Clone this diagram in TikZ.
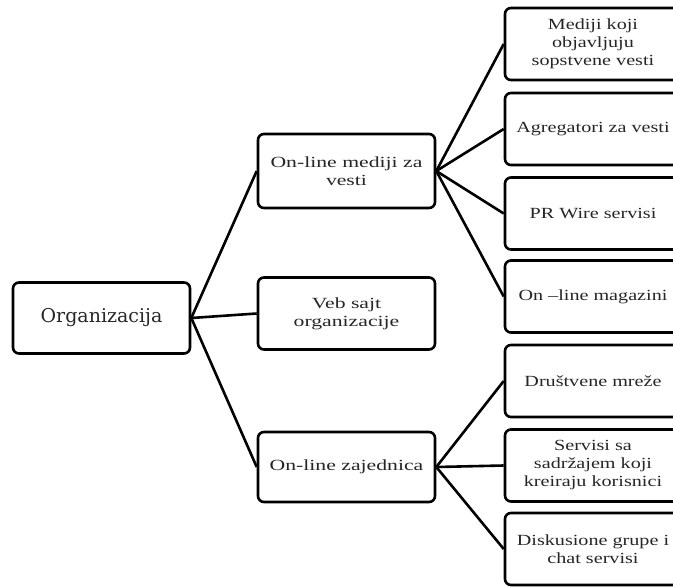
\documentclass[tikz,border=0pt]{standalone}
\usepackage{fontspec}
\setmainfont[FakeStretch=1.4]{Liberation Serif}
\newfontfamily\rightfont[FakeStretch=1.3]{Liberation Serif}
\newfontfamily\orgfont{DejaVu Serif}
\begin{document}
\begin{tikzpicture}[x=1pt,y=-1pt,
  box/.style={draw=black, line width=2.6pt, rounded corners=6pt, align=center,
    inner sep=2pt, font=\fontsize{15.5}{18}\selectfont, text=black!85, fill=white},
  midbox/.style={box, minimum width=177pt},
  rbox/.style={box, minimum width=176pt, minimum height=72pt,
    font=\rightfont\fontsize{15.5}{18}\selectfont},
  link/.style={line width=2.6pt, draw=black}]
\useasboundingbox (0,0) rectangle (673,587);
\node[box, minimum width=177pt, minimum height=71pt,
  font=\orgfont\fontsize{19}{22}\selectfont] (org) at (101.5,318) {Organizacija};
\node[midbox, minimum height=74pt] (med) at (346.5,171) {On-line mediji za\\vesti};
\node[midbox, minimum height=72pt] (veb) at (346.5,313.5) {Veb sajt\\organizacije};
\node[midbox, minimum height=70pt] (zaj) at (346.5,467) {On-line zajednica};
\node[rbox] (r1) at (593,44) {Mediji koji\\objavljuju\\sopstvene vesti};
\node[rbox] (r2) at (593,129) {Agregatori za vesti};
\node[rbox] (r3) at (593,213.5) {PR Wire servisi};
\node[rbox] (r4) at (593,296.5) {On –line magazini};
\node[rbox] (r5) at (593,381) {Društvene mreže};
\node[rbox] (r6) at (593,465.5) {Servisi sa\\sadržajem koji\\kreiraju korisnici};
\node[rbox] (r7) at (593,549) {Diskusione grupe i\\chat servisi};
\draw[link] (org.east) -- (med.west);
\draw[link] (org.east) -- (veb.west);
\draw[link] (org.east) -- (zaj.west);
\foreach \t in {r1,r2,r3,r4} \draw[link] (med.east) -- (\t.west);
\foreach \t in {r5,r6,r7} \draw[link] (zaj.east) -- (\t.west);
\end{tikzpicture}
\end{document}
